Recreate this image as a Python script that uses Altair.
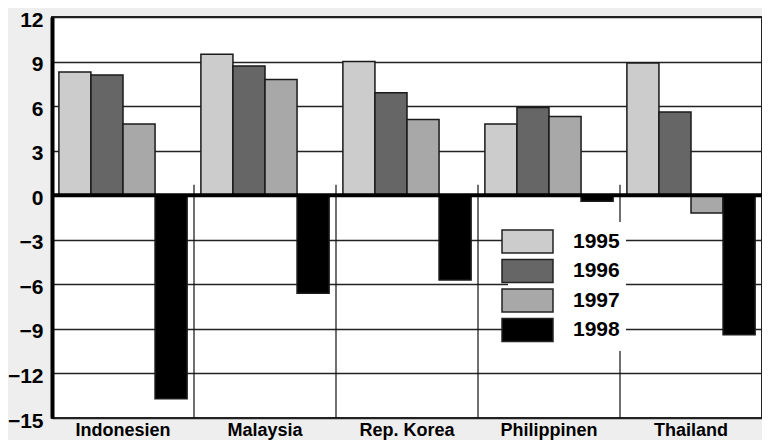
import altair as alt
import pandas as pd

countries = ["Indonesien", "Malaysia", "Rep. Korea", "Philippinen", "Thailand"]
years = ["1995", "1996", "1997", "1998"]
v1995 = [8.3, 9.5, 9.0, 4.8, 8.9]
v1996 = [8.1, 8.7, 6.9, 5.9, 5.6]
v1997 = [4.8, 7.8, 5.1, 5.3, -1.2]
v1998 = [-13.7, -6.6, -5.7, -0.4, -9.4]
colors = ["#cccccc", "#666666", "#a8a8a8", "#000000"]
y_ticks = [-15, -12, -9, -6, -3, 0, 3, 6, 9, 12]

rows = []
for yr, vals in zip(years, [v1995, v1996, v1997, v1998]):
    for c, v in zip(countries, vals):
        rows.append({"country": c, "year": yr, "value": v})
df = pd.DataFrame(rows)
sep_df = pd.DataFrame({"country": countries[1:]})
zero_df = pd.DataFrame({"v": [0]})

FONT = "Liberation Sans"

xscale = alt.Scale(domain=countries, paddingInner=0, paddingOuter=0)
x_enc = alt.X(
    "country:N",
    sort=countries,
    scale=xscale,
    axis=alt.Axis(
        title=None, labelAngle=0, domain=False, ticks=False,
        labelFont=FONT, labelFontSize=18, labelFontWeight="bold",
        labelColor="#000", labelPadding=3, labelBaseline="top",
    ),
)
y_enc = alt.Y(
    "value:Q",
    scale=alt.Scale(domain=[-15, 12], nice=False, zero=False),
    axis=alt.Axis(
        values=y_ticks, title=None, grid=True, gridColor="#222", gridWidth=1.5,
        domainColor="#000", domainWidth=4, ticks=False,
        labelFont=FONT, labelFontSize=21, labelFontWeight="bold", labelColor="#000",
        labelPadding=9, labelOffset=3, labelFlush=False, labelOverlap=False,
        minExtent=44, maxExtent=44,
    ),
)

bars = alt.Chart(df).mark_bar(stroke="#1a1a1a", strokeWidth=1.5).encode(
    x=x_enc,
    xOffset=alt.XOffset("year:N", sort=years,
                        scale=alt.Scale(domain=years, paddingInner=0, paddingOuter=0.215)),
    y=y_enc,
    color=alt.Color(
        "year:N",
        scale=alt.Scale(domain=years, range=colors),
        legend=alt.Legend(
            title=None, orient="none", legendX=456, legendY=205,
            symbolType="M-2,-0.9L2,-0.9L2,0.9L-2,0.9Z", symbolSize=650,
            symbolStrokeColor="#222", symbolStrokeWidth=1.5, symbolOpacity=1,
            labelFont=FONT, labelFontSize=21, labelFontWeight="bold", labelColor="#000",
            labelOffset=32, rowPadding=0.5, fillColor="white", padding=6,
        ),
    ),
)

seps = alt.Chart(sep_df).mark_rule(color="#111", strokeWidth=1.2).encode(
    x=alt.X("country:N", sort=countries, bandPosition=0),
    y=alt.datum(0.7),
    y2=alt.datum(-15),
)

zero = alt.Chart(zero_df).mark_rule(color="#000", strokeWidth=4).encode(
    y=alt.Y("v:Q")
)

chart = alt.layer(bars, seps, zero).properties(
    width=710, height=401,
    autosize=alt.AutoSizeParams(type="none"),
    padding={"left": 44, "top": 9, "right": 0, "bottom": 22},
    background="#eeeeee",
).configure_view(fill="white", stroke="#222", strokeWidth=2)

chart.save("out.html", embed_options={"renderer": "svg", "actions": False})
